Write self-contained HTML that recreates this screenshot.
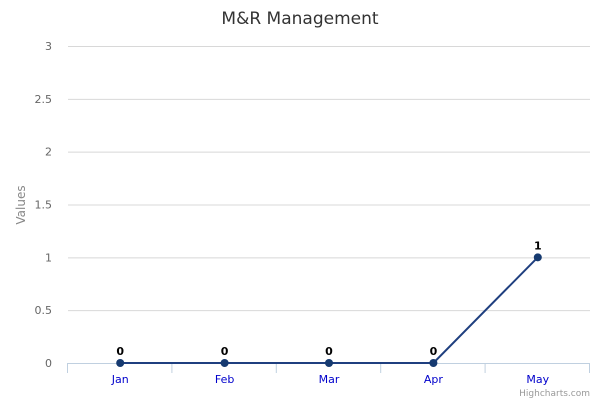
<!DOCTYPE html>
<html><head><meta charset="utf-8"><style>
html,body{margin:0;padding:0;background:#fff}
svg{display:block;font-family:"DejaVu Sans","Liberation Sans",sans-serif}
</style></head><body>
<svg id="c" width="600" height="400">
<text x="300" y="24" text-anchor="middle" font-size="17" fill="#333">M&amp;R Management</text>
<text transform="translate(25,205) rotate(-90)" text-anchor="middle" font-size="12" fill="#888">Values</text>
<g id="grid"></g><g id="xax"></g><g id="series"></g>
<text x="590" y="396" text-anchor="end" font-size="9" fill="#999">Highcharts.com</text>
</svg>
<script>
const categories=["Jan","Feb","Mar","Apr","May"];
const values=[0,0,0,0,1];
const yTicks=[0,0.5,1,1.5,2,2.5,3];
const yTickLabels=["0","0.5","1","1.5","2","2.5","3"];
const NS="http://www.w3.org/2000/svg";
const L=68,R=590,T=46,B=363,yMax=3;
const y=v=>B-(v/yMax)*(B-T);
const bw=(R-L)/categories.length;
const x=i=>L+bw*(i+0.5);
function mk(t,a,p){const e=document.createElementNS(NS,t);for(const k in a)e.setAttribute(k,a[k]);p.appendChild(e);return e;}
const grid=document.getElementById('grid'),xax=document.getElementById('xax'),ser=document.getElementById('series');
yTicks.forEach((v,i)=>{
 if(v>0){const g=mk('line',{x1:L,x2:R,y1:y(v)+0.5,y2:y(v)+0.5,stroke:'#d8d8d8'},grid);
 
 }
 const t=mk('text',{x:52,y:y(v)+4,'text-anchor':'end','font-size':11,fill:'#666'},grid);t.textContent=yTickLabels[i];
 
 
});
const ax=mk('line',{x1:L-1,x2:R,y1:B+0.5,y2:B+0.5,stroke:'#c0d0e0'},xax);


for(let i=0;i<=categories.length;i++){
 const tk=mk('line',{x1:L-0.5+bw*i,x2:L-0.5+bw*i,y1:B,y2:B+10,stroke:'#c0d0e0'},xax);
 
 
}
categories.forEach((c,i)=>{
 const t=mk('text',{x:x(i),y:B+20,'text-anchor':'middle','font-size':11,fill:'#0000cc'},xax);t.textContent=c;
 
 
});
const line=mk('polyline',{points:values.map((v,i)=>x(i)+','+y(v)).join(' '),fill:'none',stroke:'#1f3f7f','stroke-width':2},ser);


values.forEach((v,i)=>{
 const p=mk('circle',{cx:x(i),cy:y(v),r:4,fill:'#163a70'},ser);
 
 
 const t=mk('text',{x:x(i),y:y(v)-8,'text-anchor':'middle','font-size':11,'font-weight':'bold',fill:'#000'},ser);t.textContent=v;
 
 
});
</script>
</body></html>
